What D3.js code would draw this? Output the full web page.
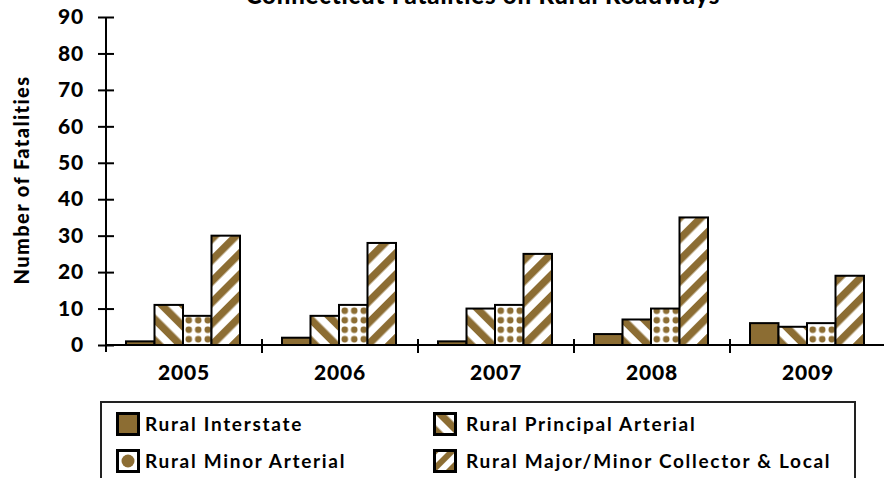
<!DOCTYPE html>
<html lang="en">
<head>
  <meta charset="UTF-8">
  <title>Connecticut Fatalities on Rural Roadways</title>
  <style>
    body { margin: 0; background: #fff; }
    text { font-family: "Lato", "Open Sans", sans-serif; font-weight: 900; fill: #000; }
    .axis path, .axis line { stroke: #000; stroke-width: 2px; }
    .axis text { font-size: 21px; font-family: "Lato", sans-serif; font-weight: 900; letter-spacing: 0.8px; }
  </style>
</head>
<body>
  <svg width="884" height="478"></svg>

  <script src="https://d3js.org/d3.v7.min.js"></script>
  <script>
    const years = ["2005", "2006", "2007", "2008", "2009"];
    const seriesNames = ["Rural Interstate", "Rural Principal Arterial", "Rural Minor Arterial", "Rural Major/Minor Collector & Local"];
    const interstate = [1, 2, 1, 3, 6];
    const principal = [11, 8, 10, 7, 5];
    const minor = [8, 11, 11, 10, 6];
    const collector = [30, 28, 25, 35, 19];
    const yTicks = [0, 10, 20, 30, 40, 50, 60, 70, 80, 90];

    const seriesValues = [interstate, principal, minor, collector];
    const fills = ["url(#solid)", "url(#back)", "url(#dots)", "url(#fwd)"];
    const brown = "#8c6d33";

    const svg = d3.select("svg");
    const margin = { left: 106, right: -2, top: 17, bottom: 133 };
    const width = 884, height = 478;

    // patterns
    const defs = svg.append("defs");
    defs.append("pattern").attr("id", "solid").attr("width", 10).attr("height", 10)
      .attr("patternUnits", "userSpaceOnUse")
      .append("rect").attr("width", 10).attr("height", 10).attr("fill", brown);

    function stripes(id, angle, size) {
      const p = defs.append("pattern").attr("id", id)
        .attr("width", size).attr("height", size)
        .attr("patternUnits", "userSpaceOnUse")
        .attr("patternTransform", `rotate(${angle})`);
      p.append("rect").attr("width", size).attr("height", size).attr("fill", "#fff");
      p.append("rect").attr("width", size / 2).attr("height", size).attr("fill", brown);
    }
    stripes("back", -45, 15);
    stripes("fwd", 45, 15);
    stripes("fwdL", 45, 12);

    const dp = defs.append("pattern").attr("id", "dots")
      .attr("width", 9.5).attr("height", 9.5)
      .attr("patternUnits", "userSpaceOnUse")
      .attr("x", 2).attr("y", 2);
    dp.append("rect").attr("width", 9.5).attr("height", 9.5).attr("fill", "#fff");
    dp.append("circle").attr("cx", 4.75).attr("cy", 4.75).attr("r", 3.3).attr("fill", brown);

    const dl = defs.append("pattern").attr("id", "dotL")
      .attr("width", 24).attr("height", 24).attr("patternUnits", "userSpaceOnUse");
    dl.append("rect").attr("width", 24).attr("height", 24).attr("fill", "#fff");
    dl.append("circle").attr("cx", 12).attr("cy", 12).attr("r", 6.5).attr("fill", brown);

    const x0 = d3.scaleBand().domain(years)
      .range([margin.left, width - margin.right]).paddingInner(0).paddingOuter(0);
    const x1 = d3.scaleBand().domain(d3.range(4))
      .range([20, x0.bandwidth() - 22]);
    const y = d3.scaleLinear().domain([0, 90]).range([height - margin.bottom, margin.top]);

    // title (cut off at top as in the source)
    svg.append("text")
      .attr("x", 483).attr("y", 4)
      .attr("text-anchor", "middle")
      .style("font-size", "24px")
      .style("letter-spacing", "0.8px")
      .text("Connecticut Fatalities on Rural Roadways");

    // bars
    const groups = svg.append("g").selectAll("g")
      .data(years)
      .join("g")
      .attr("transform", d => `translate(${x0(d)},0)`);

    groups.selectAll("rect")
      .data((d, i) => seriesValues.map((s, k) => ({ k, v: s[i] })))
      .join("rect")
      .attr("x", d => x1(d.k))
      .attr("y", d => y(d.v))
      .attr("width", x1.bandwidth())
      .attr("height", d => y(0) - y(d.v))
      .attr("fill", d => fills[d.k])
      .attr("stroke", "#000")
      .attr("stroke-width", 2);

    // y axis
    const yAxis = svg.append("g").attr("class", "axis")
      .attr("transform", `translate(${margin.left},0)`)
      .call(d3.axisLeft(y).tickValues(yTicks).tickSize(0).tickPadding(22));
    yAxis.select(".domain").remove();
    yAxis.append("line").attr("x1", 0).attr("x2", 0).attr("y1", y(90)).attr("y2", y(0) + 7);
    yAxis.selectAll(".tick").append("line").attr("x1", -8).attr("x2", 8);

    // x axis
    const xAxis = svg.append("g").attr("class", "axis")
      .attr("transform", `translate(0,${y(0)})`)
      .call(d3.axisBottom(x0).tickSize(0).tickPadding(20));
    xAxis.select(".domain").remove();
    xAxis.append("line").attr("x1", margin.left).attr("x2", width).attr("y1", 0).attr("y2", 0);
    xAxis.selectAll(".tick line").remove();
    xAxis.selectAll(".boundary")
      .data(years.slice(1))
      .join("line")
      .attr("x1", d => x0(d)).attr("x2", d => x0(d))
      .attr("y1", -6).attr("y2", 8);

    // y axis title
    svg.append("text")
      .attr("transform", `translate(29,180) rotate(-90)`)
      .attr("text-anchor", "middle")
      .style("font-size", "20px")
      .style("letter-spacing", "1.4px")
      .text("Number of Fatalities");

    // legend
    svg.append("rect")
      .attr("x", 101).attr("y", 402).attr("width", 754).attr("height", 90)
      .attr("fill", "#fff").attr("stroke", "#222").attr("stroke-width", 2);

    const legendPos = [[116, 412], [433, 412], [116, 449], [433, 449]];
    const legendFill = ["url(#solid)", "url(#back)", "url(#dotL)", "url(#fwdL)"];

    const leg = svg.append("g").selectAll("g")
      .data(seriesNames)
      .join("g")
      .attr("transform", (d, i) => `translate(${legendPos[i][0]},${legendPos[i][1]})`);

    leg.append("rect")
      .attr("x", 1.5).attr("y", 1.5)
      .attr("width", 21).attr("height", 21)
      .attr("fill", (d, i) => legendFill[i])
      .attr("stroke", "#000").attr("stroke-width", 3);

    leg.append("text")
      .attr("x", (d, i) => i % 2 ? 33 : 29).attr("y", 19)
      .style("font-size", "19px")
      .style("font-weight", "bold")
      .style("letter-spacing", "1.7px")
      .text(d => d);
  </script>
</body>
</html>
